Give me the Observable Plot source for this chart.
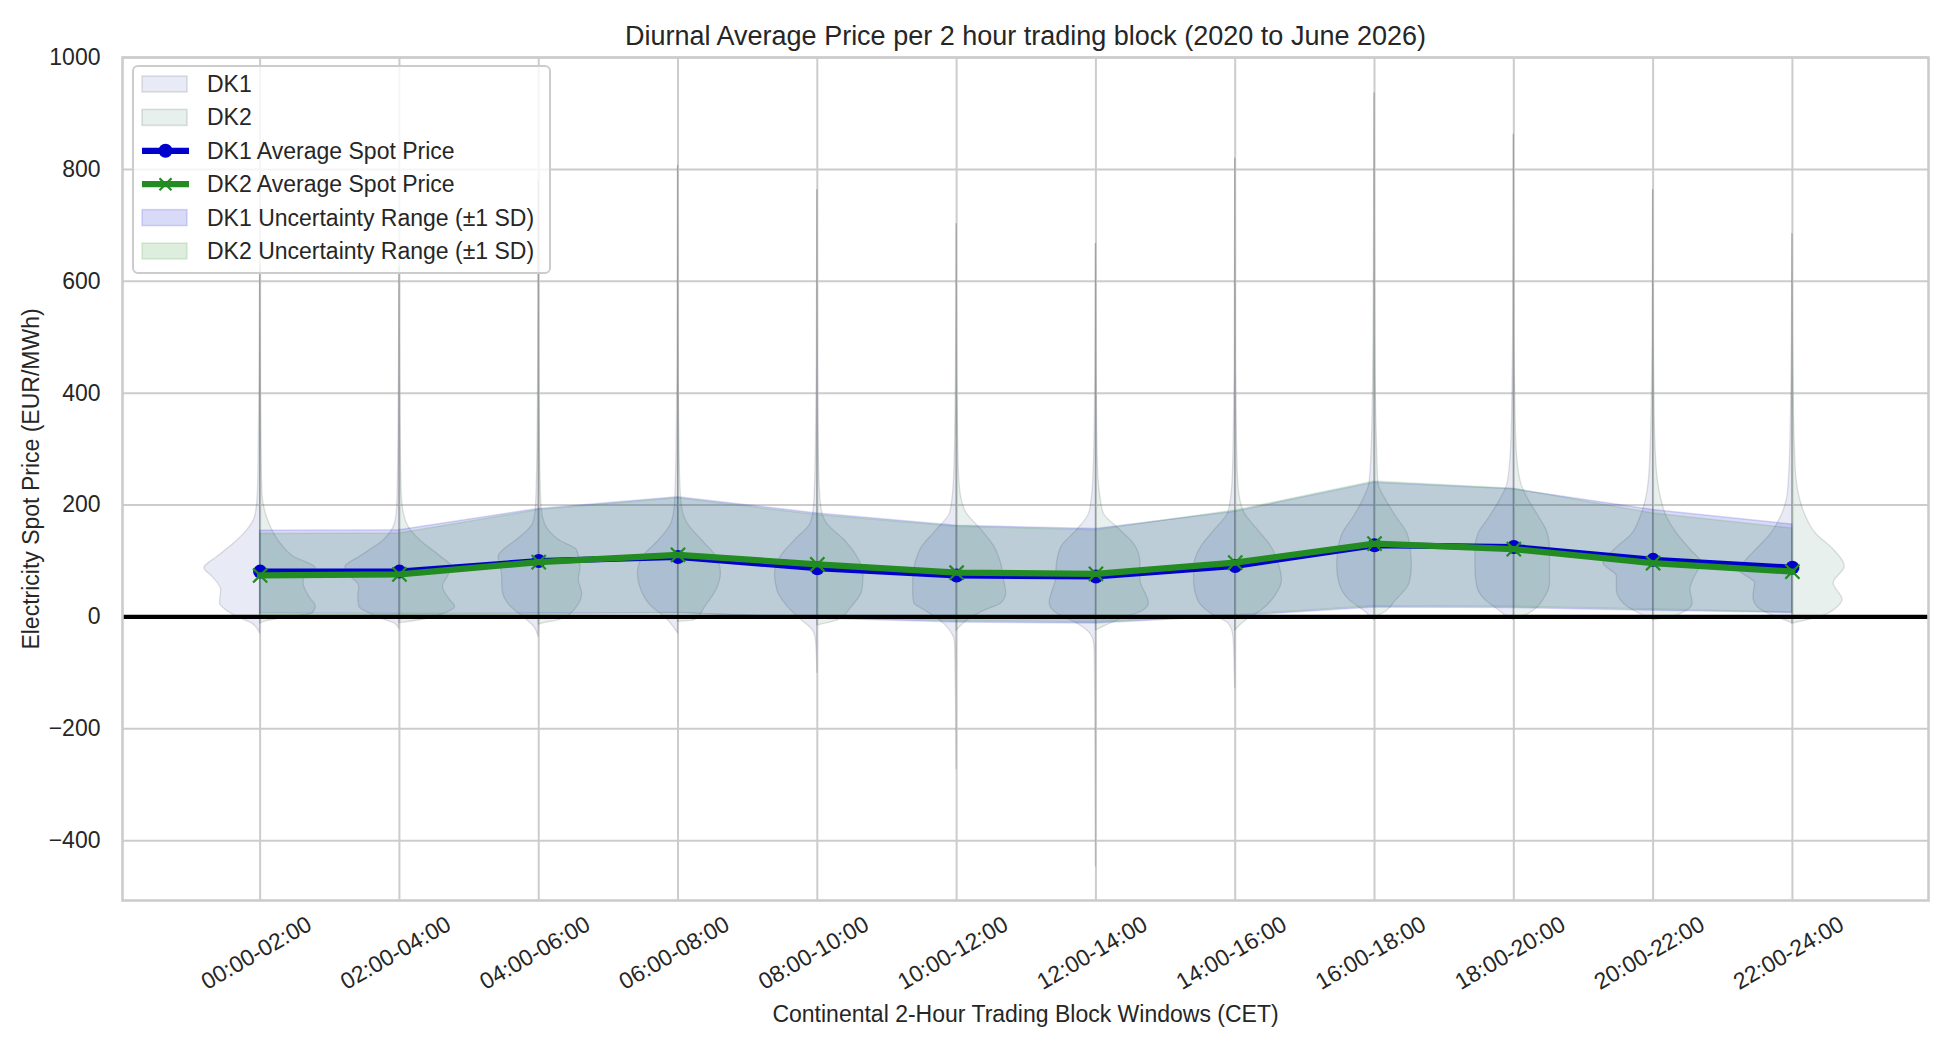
<!DOCTYPE html>
<html><head><meta charset="utf-8">
<script src="https://cdn.jsdelivr.net/npm/d3@7"></script>
<script src="https://cdn.jsdelivr.net/npm/@observablehq/plot@0.6"></script>
<style>
body{margin:0;background:#fff;}
#chart{width:1950px;height:1050px;font-family:"Liberation Sans",Arial,sans-serif;color:#262626;}
</style></head><body><div id="chart"></div>
<script>
// ---- data ----
const blocks = ["00:00-02:00","02:00-04:00","04:00-06:00","06:00-08:00","08:00-10:00","10:00-12:00",
                "12:00-14:00","14:00-16:00","16:00-18:00","18:00-20:00","20:00-22:00","22:00-24:00"];
const dk1Mean  = [81, 81, 100, 107, 87, 74, 72, 91, 128, 125, 102, 88];
const dk2Mean  = [74, 76, 98, 111, 94, 79, 77, 97, 131, 121, 96, 81];
const dk1Upper = [154, 155, 193, 214, 185, 163, 157, 188, 240, 228, 191, 165];
const dk1Lower = [6, 5, 6, 7, -3, -10, -12, 1, 17, 16, 11, 7];
const dk2Upper = [148, 149, 191, 212, 182, 161, 155, 190, 242, 229, 185, 158];
const dk2Lower = [3, 3, 4, 6, -1, -8, -10, 3, 19, 18, 13, 8];
const yTicks = [-400, -200, 0, 200, 400, 600, 800, 1000];

// violin half profiles: [price, relative half-width]
const dk1Violins = [
  [[-30,0],[-12,.14],[0,.41],[12,.61],[24,.72],[48,.70],[72,.86],[87,1.0],[107,.77],[131,.47],[155,.23],[179,.09],[221,.04],[300,.025],[420,.012],[627,0]],
  [[-22,0],[-12,.08],[-3,.34],[6,.53],[18,.72],[36,.74],[54,.72],[77,.92],[89,.97],[107,.72],[137,.28],[167,.08],[197,.04],[260,.025],[350,.015],[450,.008],[625,0]],
  [[-36,0],[-18,.08],[0,.28],[18,.5],[48,.65],[77,.66],[107,.72],[137,.4],[152,.22],[167,.1],[197,.05],[256,.03],[350,.018],[450,.01],[779,0]],
  [[-30,0],[-18,.08],[0,.24],[18,.47],[48,.66],[77,.72],[107,.63],[137,.34],[167,.12],[197,.06],[256,.035],[350,.02],[450,.01],[806,0]],
  [[-100,0],[-60,.012],[-35,.035],[-24,.08],[-6,.28],[18,.53],[48,.72],[77,.76],[107,.66],[137,.4],[167,.12],[197,.06],[256,.035],[350,.02],[450,.01],[763,0]],
  [[-272,0],[-150,.01],[-80,.02],[-45,.03],[-24,.12],[-6,.3],[12,.58],[24,.76],[42,.78],[66,.78],[95,.74],[125,.62],[155,.36],[185,.12],[215,.07],[260,.04],[350,.022],[450,.01],[702,0]],
  [[-446,0],[-300,.006],[-150,.012],[-70,.02],[-48,.03],[-30,.1],[-12,.33],[6,.7],[24,.83],[66,.72],[95,.7],[125,.62],[155,.34],[185,.12],[215,.07],[260,.04],[350,.02],[450,.01],[667,0]],
  [[-127,0],[-80,.012],[-45,.025],[-30,.04],[-12,.12],[6,.44],[30,.67],[66,.74],[95,.73],[125,.61],[155,.37],[185,.13],[215,.07],[260,.04],[350,.022],[450,.01],[819,0]],
  [[-6,0],[0,.08],[6,.13],[30,.45],[60,.63],[90,.67],[120,.65],[149,.57],[179,.37],[210,.2],[239,.09],[304,.05],[364,.035],[424,.025],[543,.015],[936,0]],
  [[-6,0],[0,.11],[12,.27],[30,.51],[60,.67],[90,.69],[120,.69],[149,.63],[179,.43],[210,.24],[239,.11],[300,.05],[400,.025],[500,.012],[862,0]],
  [[-5,0],[-3,.05],[6,.25],[24,.53],[48,.65],[72,.65],[96,.89],[120,.69],[149,.37],[180,.22],[209,.13],[240,.08],[300,.045],[400,.022],[500,.01],[763,0]],
  [[-12,0],[-9,.06],[0,.3],[18,.63],[36,.7],[60,.67],[84,.95],[101,.83],[125,.6],[149,.38],[180,.2],[209,.1],[250,.06],[300,.04],[400,.02],[500,.01],[684,0]]
];
const dk2Violins = [
  [[-12,0],[-8,.1],[-3,.37],[6,.94],[18,1.0],[36,.88],[60,.78],[72,.8],[87,1.0],[107,.61],[131,.37],[155,.22],[179,.12],[221,.04],[300,.025],[420,.012],[627,0]],
  [[-11,0],[-6,.37],[6,.81],[18,1.0],[30,.91],[54,.78],[72,.87],[89,.94],[107,.75],[137,.37],[160,.17],[185,.08],[221,.04],[300,.025],[420,.012],[625,0]],
  [[-14,0],[-10,.15],[-6,.37],[18,.69],[42,.78],[66,.72],[89,.75],[119,.69],[137,.37],[152,.2],[167,.11],[197,.05],[256,.03],[350,.018],[450,.01],[779,0]],
  [[-9,0],[-6,.3],[18,.49],[48,.69],[77,.77],[107,.69],[137,.43],[167,.17],[197,.07],[256,.035],[350,.02],[450,.01],[806,0]],
  [[-15,0],[-6,.37],[18,.62],[48,.81],[77,.83],[107,.72],[137,.49],[167,.17],[197,.07],[256,.035],[350,.02],[450,.01],[763,0]],
  [[-25,0],[-18,.06],[-6,.2],[12,.52],[24,.8],[42,.89],[66,.85],[95,.8],[125,.68],[155,.45],[185,.18],[215,.08],[260,.04],[350,.022],[450,.01],[702,0]],
  [[-24,0],[-18,.13],[-6,.4],[12,.86],[24,.95],[66,.8],[95,.8],[125,.72],[155,.44],[185,.14],[215,.08],[260,.04],[350,.02],[450,.01],[667,0]],
  [[-25,0],[-18,.06],[-6,.2],[12,.48],[42,.75],[66,.84],[95,.78],[125,.65],[155,.41],[185,.17],[215,.08],[260,.045],[350,.025],[450,.012],[819,0]],
  [[-1,0],[6,.15],[30,.39],[60,.63],[90,.67],[120,.65],[149,.59],[179,.39],[210,.2],[239,.07],[304,.045],[364,.03],[424,.02],[543,.012],[936,0]],
  [[-3,0],[0,.13],[12,.37],[30,.53],[60,.65],[90,.65],[120,.65],[149,.61],[179,.45],[210,.26],[239,.13],[300,.05],[400,.025],[500,.012],[862,0]],
  [[-6,0],[-3,.19],[6,.51],[24,.71],[48,.67],[72,.75],[96,.87],[120,.67],[149,.43],[180,.24],[209,.15],[240,.09],[300,.045],[400,.022],[500,.01],[763,0]],
  [[-12,0],[-9,.14],[0,.5],[18,.82],[30,.9],[60,.74],[90,.94],[120,.74],[149,.42],[180,.24],[209,.14],[250,.07],[300,.045],[400,.022],[500,.01],[684,0]]
];

// ---- styling ----
const FONT = '"Liberation Sans", Arial, sans-serif';
const TEXT = "#262626";
const GRID = "#cccccc";
const DK1_LINE = "mediumblue";
const DK2_LINE = "forestgreen";
const DK1_VIOLIN = "rgb(63,80,180)";
const DK2_VIOLIN = "rgb(55,130,97)";
const VIOLIN_OPACITY = 0.12;
const HALF_WIDTH = 0.4;

const idx = blocks.map((_, i) => i);
function violinRows(profiles, side) {
  const rows = [];
  profiles.forEach((prof, i) => prof.forEach(([price, w]) => rows.push({i, price, x2: i + side * w * HALF_WIDTH})));
  return rows;
}
const dk1Rows = violinRows(dk1Violins, -1);
const dk2Rows = violinRows(dk2Violins, 1);

const violinStyle = {y: "price", x1: "i", x2: "x2", z: "i", curve: "monotone-y",
  fillOpacity: VIOLIN_OPACITY, stroke: "#404040", strokeOpacity: 0.16, strokeWidth: 1.3};

const svg = Plot.plot({
  width: 1950, height: 1050,
  marginLeft: 122, marginRight: 22, marginTop: 57, marginBottom: 150,
  style: {fontFamily: FONT, color: TEXT, background: "white", overflow: "visible"},
  x: {type: "linear", domain: [-0.988, 11.977], axis: null},
  y: {domain: [-507, 1000], axis: null},
  marks: [
    Plot.ruleY(yTicks, {stroke: GRID, strokeWidth: 2}),
    Plot.ruleX(idx, {x: d => d, stroke: GRID, strokeWidth: 2}),
    Plot.areaX(dk1Rows, {...violinStyle, fill: DK1_VIOLIN}),
    Plot.areaX(dk2Rows, {...violinStyle, fill: DK2_VIOLIN}),
    Plot.areaY(idx, {x: d => d, y1: d => dk1Lower[d], y2: d => dk1Upper[d],
      fill: DK1_LINE, fillOpacity: 0.15, stroke: DK1_LINE, strokeOpacity: 0.15, strokeWidth: 1.5}),
    Plot.areaY(idx, {x: d => d, y1: d => dk2Lower[d], y2: d => dk2Upper[d],
      fill: DK2_LINE, fillOpacity: 0.15, stroke: DK2_LINE, strokeOpacity: 0.15, strokeWidth: 1.5}),
    Plot.ruleY([0], {stroke: "black", strokeWidth: 4.2}),
    Plot.line(idx, {x: d => d, y: d => dk1Mean[d], stroke: DK1_LINE, strokeWidth: 6, strokeLinejoin: "round"}),
    Plot.dot(idx, {x: d => d, y: d => dk1Mean[d], r: 7, fill: DK1_LINE, stroke: "none"}),
    Plot.line(idx, {x: d => d, y: d => dk2Mean[d], stroke: DK2_LINE, strokeWidth: 6.25, strokeLinejoin: "round"}),
    Plot.dot(idx, {x: d => d, y: d => dk2Mean[d], r: 6.5, symbol: "times", stroke: DK2_LINE, strokeWidth: 2.2}),
    Plot.frame({stroke: GRID, strokeWidth: 2.6}),
    Plot.axisY(yTicks, {tickSize: 0, tickPadding: 22, fontSize: 23, label: null, tickFormat: d => d < 0 ? "\u2212" + Math.abs(d) : String(d)}),
    Plot.text(blocks, {x: (d, i) => i, frameAnchor: "bottom", dy: 59, rotate: -30, fontSize: 23, fill: TEXT, textAnchor: "middle"}),
    Plot.text(["Continental 2-Hour Trading Block Windows (CET)"], {frameAnchor: "bottom", dy: 121, fontSize: 23, fill: TEXT, textAnchor: "middle"}),
    Plot.text(["Electricity Spot Price (EUR/MWh)"], {frameAnchor: "left", dx: -91, rotate: -90, fontSize: 23, fill: TEXT, textAnchor: "middle"}),
    Plot.text(["Diurnal Average Price per 2 hour trading block (2020 to June 2026)"], {frameAnchor: "top", dy: -32, fontSize: 27, fill: TEXT, textAnchor: "middle"})
  ]
});

// ---- legend ----
const lg = d3.select(svg).append("g").attr("font-family", FONT).attr("font-size", 23)
  .attr("fill", TEXT).attr("text-anchor", "start");
lg.append("rect").attr("x", 133).attr("y", 66).attr("width", 417).attr("height", 207).attr("rx", 5)
  .attr("fill", "white").attr("fill-opacity", 0.8).attr("stroke", GRID).attr("stroke-width", 2);
const entries = [
  {label: "DK1", type: "patch", fill: DK1_VIOLIN, fo: VIOLIN_OPACITY, stroke: "#404040", so: 0.16},
  {label: "DK2", type: "patch", fill: DK2_VIOLIN, fo: VIOLIN_OPACITY, stroke: "#404040", so: 0.16},
  {label: "DK1 Average Spot Price", type: "line", color: DK1_LINE, marker: "circle"},
  {label: "DK2 Average Spot Price", type: "line", color: DK2_LINE, marker: "x"},
  {label: "DK1 Uncertainty Range (\u00b11 SD)", type: "patch", fill: DK1_LINE, fo: 0.15, stroke: DK1_LINE, so: 0.15},
  {label: "DK2 Uncertainty Range (\u00b11 SD)", type: "patch", fill: DK2_LINE, fo: 0.15, stroke: DK2_LINE, so: 0.15}
];
entries.forEach((e, k) => {
  const cy = 84 + k * 33.4;
  if (e.type === "patch") {
    lg.append("rect").attr("x", 142).attr("y", cy - 8).attr("width", 45).attr("height", 16)
      .attr("fill", e.fill).attr("fill-opacity", e.fo).attr("stroke", e.stroke).attr("stroke-opacity", e.so).attr("stroke-width", 1.5);
  } else {
    lg.append("line").attr("x1", 142).attr("x2", 189).attr("y1", cy).attr("y2", cy)
      .attr("stroke", e.color).attr("stroke-width", 6.25);
    if (e.marker === "circle") {
      lg.append("circle").attr("cx", 165.5).attr("cy", cy).attr("r", 7).attr("fill", e.color);
    } else {
      lg.append("path").attr("d", `M${159.5},${cy-6}L${171.5},${cy+6}M${159.5},${cy+6}L${171.5},${cy-6}`)
        .attr("stroke", e.color).attr("stroke-width", 2.2).attr("fill", "none");
    }
  }
  lg.append("text").attr("x", 207).attr("y", cy).attr("dy", "0.35em").attr("text-anchor", "start").text(e.label);
});

document.getElementById("chart").appendChild(svg);
</script>
</body></html>
